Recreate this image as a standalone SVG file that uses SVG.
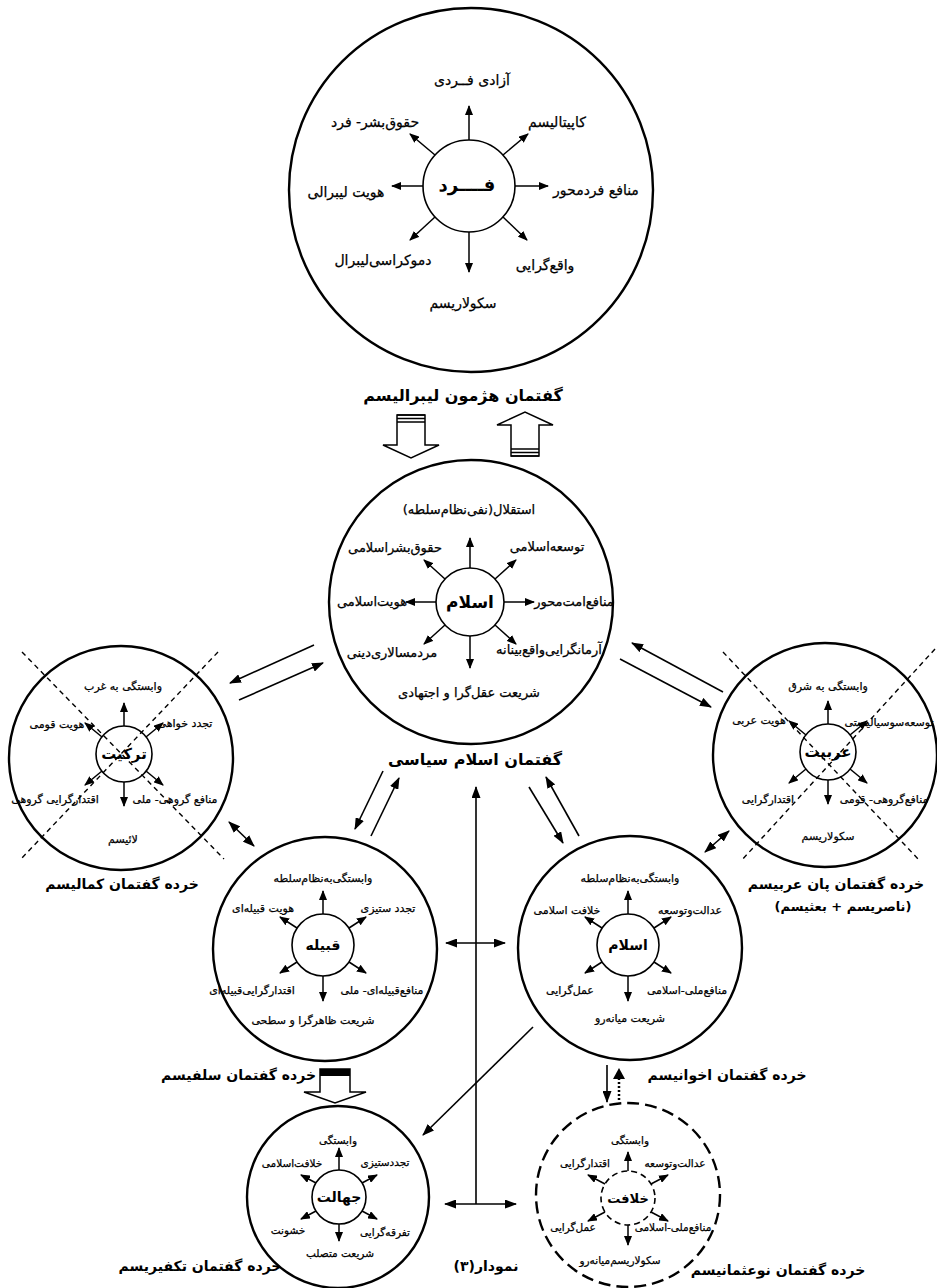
<svg xmlns="http://www.w3.org/2000/svg" width="937" height="1288" viewBox="0 0 937 1288">
<style>
.c{fill:#fff;stroke:#000;stroke-width:2.4}
.ci{fill:#fff;stroke:#000;stroke-width:1.6}
.a{stroke:#000;stroke-width:1.5;fill:none;marker-end:url(#ah)}
.L{stroke:#000;stroke-width:1.6;fill:none;marker-end:url(#bh)}
.D{stroke:#000;stroke-width:1.6;fill:none;marker-start:url(#bh2);marker-end:url(#bh)}
.x{stroke:#000;stroke-width:1.4;stroke-dasharray:5 4;fill:none}
.h{fill:#fff;stroke:#000;stroke-width:1.5}
text{font-family:"DejaVu Sans",sans-serif;fill:#000;text-anchor:middle;stroke:#000;stroke-width:0.25}
.t14{font-size:14px}
.t13{font-size:13px}
.t11{font-size:11px}
.t10{font-size:10.5px}
.b{font-weight:bold;stroke-width:0}
.tt{font-weight:bold;font-size:14px;stroke-width:0}
</style>
<defs>
<marker id="ah" viewBox="0 0 10 8" refX="9" refY="4" markerWidth="10" markerHeight="8" markerUnits="userSpaceOnUse" orient="auto"><path d="M0,0L10,4L0,8z"/></marker>
<marker id="bh" viewBox="0 0 12 9" refX="11" refY="4.5" markerWidth="12" markerHeight="9" markerUnits="userSpaceOnUse" orient="auto"><path d="M0,0L12,4.5L0,9z"/></marker>
<marker id="bh2" viewBox="0 0 12 9" refX="11" refY="4.5" markerWidth="12" markerHeight="9" markerUnits="userSpaceOnUse" orient="auto-start-reverse"><path d="M0,0L12,4.5L0,9z"/></marker>
</defs>

<g id="liberalism">
<circle class="c" cx="471" cy="190" r="182"/>
<circle class="ci" cx="469" cy="186" r="46"/>
<line class="a" x1="469" y1="140" x2="469" y2="106"/>
<line class="a" x1="469" y1="232" x2="469" y2="272"/>
<line class="a" x1="515" y1="186" x2="548" y2="186"/>
<line class="a" x1="423" y1="186" x2="392" y2="186"/>
<line class="a" x1="503" y1="155" x2="528" y2="134"/>
<line class="a" x1="435" y1="155" x2="410" y2="134"/>
<line class="a" x1="503" y1="217" x2="527" y2="240"/>
<line class="a" x1="435" y1="217" x2="410" y2="240"/>
<text class="b" x="467" y="191" style="font-size:18px">فــــرد</text>
<text class="t14" x="472" y="85">آزادی فــردی</text>
<text class="t14" x="375" y="127">حقوق‌بشر- فرد</text>
<text class="t14" x="557" y="127">کاپیتالیسم</text>
<text class="t14" x="346" y="197">هویت لیبرالی</text>
<text class="t14" x="596" y="195">منافع فردمحور</text>
<text class="t14" x="383" y="265">دموکراسی‌لیبرال</text>
<text class="t14" x="545" y="270">واقع‌گرایی</text>
<text class="t14" x="463" y="308">سکولاریسم</text>
<text class="b" x="463" y="401" style="font-size:16px">گفتمان هژمون لیبرالیسم</text>
</g>

<g id="political-islam">
<circle class="c" cx="471" cy="602" r="142"/>
<circle class="ci" cx="470" cy="602" r="34"/>
<line class="a" x1="470" y1="568" x2="470" y2="538"/>
<line class="a" x1="470" y1="636" x2="470" y2="668"/>
<line class="a" x1="504" y1="602" x2="534" y2="602"/>
<line class="a" x1="436" y1="602" x2="406" y2="602"/>
<line class="a" x1="495" y1="579" x2="516" y2="560"/>
<line class="a" x1="445" y1="579" x2="424" y2="560"/>
<line class="a" x1="495" y1="625" x2="516" y2="644"/>
<line class="a" x1="445" y1="625" x2="424" y2="644"/>
<text class="b" x="470" y="608" style="font-size:17px">اسلام</text>
<text class="t13" x="469" y="514" direction="rtl">استقلال(نفی‌نظام‌سلطه)</text>
<text class="t13" x="395" y="552">حقوق‌بشراسلامی</text>
<text class="t13" x="547" y="551">توسعه‌اسلامی</text>
<text class="t13" x="372" y="606">هویت‌اسلامی</text>
<text class="t13" x="574" y="606">منافع‌امت‌محور</text>
<text class="t13" x="392" y="657">مردمسالاری‌دینی</text>
<text class="t13" x="549" y="654">آرمانگرایی‌واقع‌بینانه</text>
<text class="t13" x="469" y="697">شریعت عقل‌گرا و اجتهادی</text>
<text class="b" x="475" y="765" style="font-size:16px">گفتمان اسلام سیاسی</text>
</g>

<g id="kemalism">
<circle class="c" cx="121" cy="758" r="112"/>
<circle class="ci" cx="124" cy="754" r="28"/>
<line class="a" x1="124" y1="726" x2="124" y2="703"/>
<line class="a" x1="124" y1="782" x2="124" y2="806"/>
<line class="a" x1="146" y1="737" x2="163" y2="723"/>
<line class="a" x1="102" y1="737" x2="85" y2="723"/>
<line class="a" x1="146" y1="771" x2="163" y2="785"/>
<line class="a" x1="102" y1="771" x2="85" y2="785"/>
<text class="b" x="124" y="759" style="font-size:15px">ترکیت</text>
<line class="x" x1="22" y1="652" x2="224" y2="859"/>
<line class="x" x1="218" y1="652" x2="21" y2="859"/>
<text class="t11" x="123" y="690">وابستگی به غرب</text>
<text class="t11" x="57" y="728">هویت قومی</text>
<text class="t11" x="185" y="727">تجدد خواهی</text>
<text class="t11" x="55" y="803">اقتدارگرایی گروهی</text>
<text class="t11" x="175" y="803">منافع گروهی- ملی</text>
<text class="t11" x="123" y="843">لائیسم</text>
<text class="tt" x="122" y="889">خرده گفتمان کمالیسم</text>
</g>

<g id="pan-arabism">
<circle class="c" cx="825" cy="755" r="112"/>
<circle class="ci" cx="828" cy="752" r="28"/>
<line class="a" x1="828" y1="724" x2="828" y2="701"/>
<line class="a" x1="828" y1="780" x2="828" y2="804"/>
<line class="a" x1="850" y1="735" x2="867" y2="721"/>
<line class="a" x1="806" y1="735" x2="789" y2="721"/>
<line class="a" x1="850" y1="769" x2="867" y2="783"/>
<line class="a" x1="806" y1="769" x2="789" y2="783"/>
<text class="b" x="828" y="757" style="font-size:15px">عربیت</text>
<line class="x" x1="723" y1="652" x2="920" y2="861"/>
<line class="x" x1="935" y1="649" x2="741" y2="861"/>
<text class="t11" x="828" y="690">وابستگی به شرق</text>
<text class="t11" x="759" y="724">هویت عربی</text>
<text class="t11" x="889" y="726">توسعه‌سوسیالیستی</text>
<text class="t11" x="768" y="803">اقتدارگرایی</text>
<text class="t11" x="884" y="803">منافع‌گروهی- قومی</text>
<text class="t11" x="828" y="840">سکولاریسم</text>
<text class="tt" x="836" y="889">خرده گفتمان پان عربیسم</text>
<text class="b" x="843" y="911" direction="rtl" style="font-size:13px">(ناصریسم + بعثیسم)</text>
</g>

<g id="salafism">
<circle class="c" cx="325" cy="949" r="112"/>
<circle class="ci" cx="323" cy="945" r="31"/>
<line class="a" x1="323" y1="914" x2="323" y2="891"/>
<line class="a" x1="323" y1="976" x2="323" y2="1001"/>
<line class="a" x1="349" y1="928" x2="366" y2="917"/>
<line class="a" x1="297" y1="928" x2="280" y2="917"/>
<line class="a" x1="349" y1="962" x2="366" y2="973"/>
<line class="a" x1="297" y1="962" x2="280" y2="973"/>
<text class="b" x="323" y="950" style="font-size:14px">قبیله</text>
<text class="t11" x="323" y="882">وابستگی‌به‌نظام‌سلطه</text>
<text class="t11" x="263" y="912">هویت قبیله‌ای</text>
<text class="t11" x="388" y="912">تجدد ستیزی</text>
<text class="t11" x="252" y="994">اقتدارگرایی‌قبیله‌ای</text>
<text class="t11" x="382" y="994">منافع‌قبیله‌ای- ملی</text>
<text class="t11" x="313" y="1024">شریعت ظاهرگرا و سطحی</text>
<text class="tt" x="316" y="1080" style="text-anchor:end">خرده گفتمان سلفیسم</text>
</g>

<g id="ikhwanism">
<circle class="c" cx="630" cy="948" r="112"/>
<circle class="ci" cx="628" cy="945" r="31"/>
<line class="a" x1="628" y1="914" x2="628" y2="891"/>
<line class="a" x1="628" y1="976" x2="628" y2="1001"/>
<line class="a" x1="654" y1="928" x2="671" y2="917"/>
<line class="a" x1="602" y1="928" x2="585" y2="917"/>
<line class="a" x1="654" y1="962" x2="671" y2="973"/>
<line class="a" x1="602" y1="962" x2="585" y2="973"/>
<text class="b" x="628" y="950" style="font-size:14px">اسلام</text>
<text class="t11" x="630" y="882">وابستگی‌به‌نظام‌سلطه</text>
<text class="t11" x="567" y="914">خلافت اسلامی</text>
<text class="t11" x="690" y="914">عدالت‌وتوسعه</text>
<text class="t11" x="570" y="994">عمل‌گرایی</text>
<text class="t11" x="687" y="994">منافع‌ملی-اسلامی</text>
<text class="t11" x="630" y="1022">شریعت میانه‌رو</text>
<text class="tt" x="727" y="1080">خرده گفتمان اخوانیسم</text>
</g>

<g id="neo-ottomanism">
<circle class="c" cx="628" cy="1195" r="92" style="stroke-dasharray:12 6"/>
<circle class="ci" cx="628" cy="1198" r="27" style="stroke-dasharray:6 4"/>
<line class="a" x1="628" y1="1171" x2="628" y2="1152"/>
<line class="a" x1="628" y1="1225" x2="628" y2="1245"/>
<line class="a" x1="651" y1="1184" x2="668" y2="1175"/>
<line class="a" x1="605" y1="1184" x2="588" y2="1175"/>
<line class="a" x1="651" y1="1212" x2="668" y2="1221"/>
<line class="a" x1="605" y1="1212" x2="588" y2="1221"/>
<text class="b" x="628" y="1203" style="font-size:13px">خلافت</text>
<text class="t10" x="630" y="1144">وابستگی</text>
<text class="t10" x="585" y="1167">اقتدارگرایی</text>
<text class="t10" x="675" y="1167">عدالت‌وتوسعه</text>
<text class="t10" x="573" y="1231">عمل‌گرایی</text>
<text class="t10" x="673" y="1231">منافع‌ملی-اسلامی</text>
<text class="t10" x="620" y="1264">سکولاریسم‌میانه‌رو</text>
<text class="tt" x="778" y="1275">خرده گفتمان نوعثمانیسم</text>
</g>

<g id="takfirism">
<circle class="c" cx="338" cy="1197" r="91"/>
<circle class="ci" cx="339" cy="1197" r="27"/>
<line class="a" x1="339" y1="1170" x2="339" y2="1148"/>
<line class="a" x1="339" y1="1224" x2="339" y2="1241"/>
<line class="a" x1="362" y1="1183" x2="377" y2="1175"/>
<line class="a" x1="316" y1="1183" x2="301" y2="1175"/>
<line class="a" x1="362" y1="1211" x2="377" y2="1219"/>
<line class="a" x1="316" y1="1211" x2="301" y2="1219"/>
<text class="b" x="339" y="1202" style="font-size:14px">جهالت</text>
<text class="t10" x="338" y="1144">وابستگی</text>
<text class="t10" x="292" y="1167">خلافت‌اسلامی</text>
<text class="t10" x="385" y="1166">تجددستیزی</text>
<text class="t10" x="288" y="1234">خشونت</text>
<text class="t10" x="385" y="1236">تفرقه‌گرایی</text>
<text class="t10" x="340" y="1257">شریعت متصلب</text>
<text class="tt" x="200" y="1271">خرده گفتمان تکفیریسم</text>
</g>

<g id="caption">
<text class="tt" x="486" y="1271" direction="rtl">نمودار(۳)</text>
</g>

<g id="connectors">
<path class="h" d="M397,415H425V445H439L411,458L383,445H397Z"/>
<path d="M397,415H425M397,418.5H425M397,422H425" stroke="#000" stroke-width="1.6"/>
<path class="h" d="M511,456V425H497L525,412L553,425H539V456Z"/>
<path d="M511,449H539M511,452.5H539M511,456H539" stroke="#000" stroke-width="1.6"/>
<path class="h" d="M320,1069H350V1092H366L335,1103L304,1092H320Z"/>
<rect x="320" y="1069" width="30" height="7" fill="#000"/>
<line class="L" x1="314" y1="645" x2="230" y2="683"/>
<line class="L" x1="239" y1="700" x2="323" y2="663"/>
<line class="L" x1="723" y1="692" x2="632" y2="643"/>
<line class="L" x1="620" y1="659" x2="711" y2="707"/>
<line class="L" x1="383" y1="771" x2="355" y2="829"/>
<line class="L" x1="371" y1="836" x2="399" y2="778"/>
<line class="L" x1="529" y1="787" x2="563" y2="843"/>
<line class="L" x1="579" y1="836" x2="546" y2="777"/>
<line class="D" x1="229" y1="822" x2="254" y2="846"/>
<line class="D" x1="705" y1="852" x2="729" y2="831"/>
<line class="L" x1="476" y1="1204" x2="476" y2="787"/>
<line class="D" x1="446" y1="943" x2="505" y2="943"/>
<line class="D" x1="445" y1="1204" x2="516" y2="1204"/>
<line class="L" x1="533" y1="1027" x2="423" y2="1135"/>
<line class="L" x1="607" y1="1065" x2="607" y2="1102"/>
<line x1="619" y1="1100" x2="619" y2="1078" stroke="#000" stroke-width="2.5" stroke-dasharray="2 2"/>
<path d="M613,1079L619,1068L625,1079Z"/>
</g>
</svg>
